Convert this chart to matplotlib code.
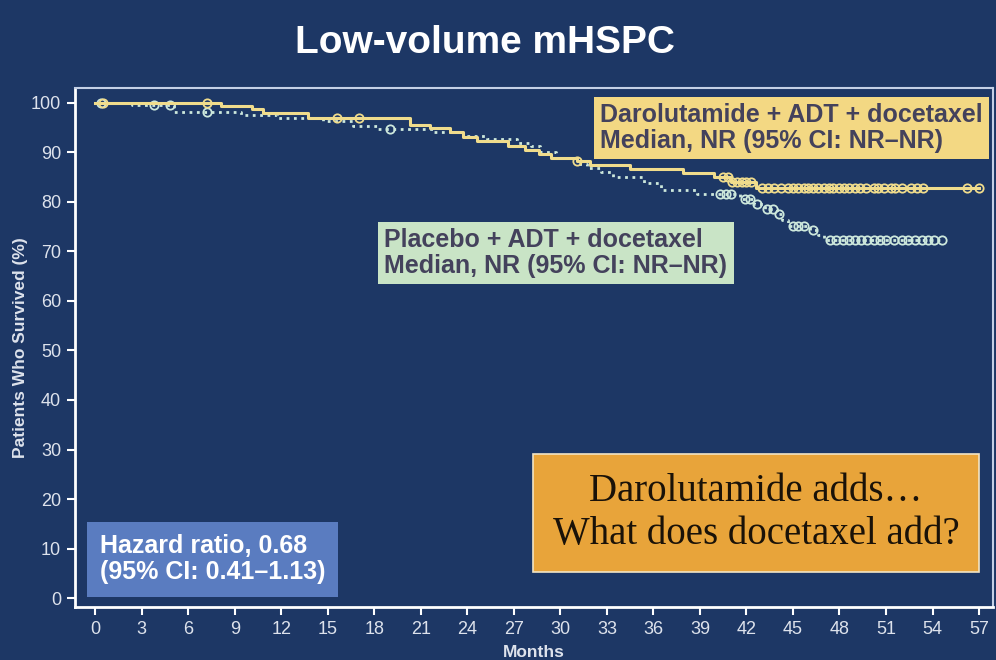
import numpy as np
import matplotlib.pyplot as plt

# Kaplan-Meier steps (months, % surviving after the step)
daro_t = [0, 8.1, 10.1, 10.8, 13.7, 20.3, 21.6, 22.9, 23.7, 24.6, 26.6, 27.7,
          28.6, 29.4, 31.1, 31.9, 34.5, 37.9, 39.9, 41.0, 42.6, 57.0]
daro_s = [100, 99.4, 98.8, 98.0, 97.0, 95.6, 94.9, 94.1, 93.1, 92.3, 91.3, 90.5,
          89.7, 88.9, 88.3, 87.5, 86.7, 85.9, 85.1, 84.0, 82.8, 82.8]
daro_cens = [0.5, 7.2, 15.6, 17.0, 31.1, 40.5, 40.8, 41.1, 41.4, 41.7, 42.0, 42.3,
             43.0, 43.4, 43.8, 44.2, 44.7, 45.0, 45.3, 45.7, 46.0, 46.3, 46.6, 47.0,
             47.3, 47.6, 48.0, 48.3, 48.6, 49.0, 49.3, 49.7, 50.2, 50.5, 50.9, 51.3,
             51.6, 52.0, 52.6, 53.0, 53.4, 56.2, 57.0]

plac_t = [0, 2.4, 5.1, 9.4, 11.7, 14.7, 16.6, 18.2, 21.8, 23.7, 25.3, 27.2, 28.1,
          28.7, 29.7, 31.1, 31.7, 32.6, 33.4, 35.4, 36.5, 38.8, 41.6, 42.5, 43.2,
          44.0, 44.3, 44.7, 46.1, 46.6, 47.0, 54.7]
plac_s = [100, 99.6, 98.2, 97.6, 97.0, 96.4, 95.4, 94.7, 94.1, 93.3, 92.7, 91.9,
          91.3, 90.1, 88.9, 87.7, 86.9, 86.1, 85.1, 83.8, 82.4, 81.6, 80.6, 79.6,
          78.6, 77.6, 76.4, 75.2, 74.3, 73.3, 72.3, 72.3]
plac_cens = [0.4, 3.8, 4.8, 7.2, 19.0, 40.3, 40.7, 41.0, 41.9, 42.2, 42.7, 43.3,
             43.7, 44.1, 45.0, 45.3, 45.7, 46.3, 47.4, 47.8, 48.2, 48.6, 49.0, 49.4,
             49.8, 50.2, 50.6, 51.0, 51.5, 52.0, 52.4, 52.9, 53.3, 53.7, 54.1, 54.6]

x_ticks = np.arange(0, 58, 3)
y_ticks = np.arange(0, 101, 10)

bg = '#1d3765'
daro_col = '#f0dc8c'
plac_col = '#cde8dc'

def surv_at(times, surv, t):
    i = np.searchsorted(times, t, side='right') - 1
    return surv[i]

fig = plt.figure(figsize=(9.96, 6.6), dpi=100, facecolor=bg)
ax = fig.add_axes([0.0753, 0.0803, 0.9217, 0.7864])
ax.set_facecolor(bg)

ax.step(plac_t, plac_s, where='post', color=plac_col, lw=2, ls=':', zorder=3)
ax.step(daro_t, daro_s, where='post', color=daro_col, lw=2.2, zorder=4)
ax.plot(plac_cens, [surv_at(plac_t, plac_s, t) for t in plac_cens], 'o',
        mfc='none', mec=plac_col, ms=6, mew=1.3, zorder=3)
ax.plot(daro_cens, [surv_at(daro_t, daro_s, t) for t in daro_cens], 'o',
        mfc='none', mec=daro_col, ms=6, mew=1.3, zorder=4)

ax.set_xlim(-1.3, 57.9)
ax.set_ylim(-1.8, 103)
ax.set_xticks(x_ticks)
ax.set_yticks(y_ticks)
ax.tick_params(colors='white', labelcolor='#dde2ec', labelsize=13, length=6,
               width=1.5, direction='out', pad=4)
for side in ['left', 'bottom']:
    ax.spines[side].set_color('white')
    ax.spines[side].set_linewidth(2)
for side in ['top', 'right']:
    ax.spines[side].set_color('#c4d0e6')
    ax.spines[side].set_linewidth(1.5)

ax.set_xlabel('Months', color='#dde2ec', fontsize=12.5, fontweight='bold',
              family='Liberation Sans', labelpad=5)
ax.set_ylabel('Patients Who Survived (%)', color='#dde2ec', fontsize=12.5,
              fontweight='bold', family='Liberation Sans', labelpad=2)
for lab in ax.get_xticklabels() + ax.get_yticklabels():
    lab.set_family('Liberation Sans')

fig.text(0.487, 0.935, 'Low-volume mHSPC', color='white', fontsize=28,
         fontweight='bold', family='Liberation Sans', ha='center', va='center')

box_font = dict(family='Liberation Sans', fontweight='bold', fontsize=18,
                linespacing=1.1)
ax.text(0.572, 0.923, 'Darolutamide + ADT + docetaxel\nMedian, NR (95% CI: NR\u2013NR)',
        transform=ax.transAxes, color='#44425c', va='center', ha='left',
        bbox=dict(boxstyle='square,pad=0.25', fc='#f3d883', ec='none'), **box_font)
ax.text(0.337, 0.682, 'Placebo + ADT + docetaxel\nMedian, NR (95% CI: NR\u2013NR)',
        transform=ax.transAxes, color='#44425c', va='center', ha='left',
        bbox=dict(boxstyle='square,pad=0.25', fc='#c9e4c6', ec='none'), **box_font)
ax.text(0.027, 0.092, 'Hazard ratio, 0.68\n(95% CI: 0.41\u20131.13)',
        transform=ax.transAxes, color='white', va='center', ha='left',
        bbox=dict(boxstyle='square,pad=0.5', fc='#5a7cc0', ec='none'), **box_font)
ax.text(0.742, 0.181, 'Darolutamide adds\u2026\nWhat does docetaxel add?',
        transform=ax.transAxes, color='#1a1208', va='center', ha='center',
        family='Liberation Serif', fontsize=28, linespacing=1.2,
        bbox=dict(boxstyle='square,pad=0.5', fc='#e8a43a', ec='#f2e4c4', lw=1.2))

fig.savefig('out.png', dpi=100, facecolor=bg)
